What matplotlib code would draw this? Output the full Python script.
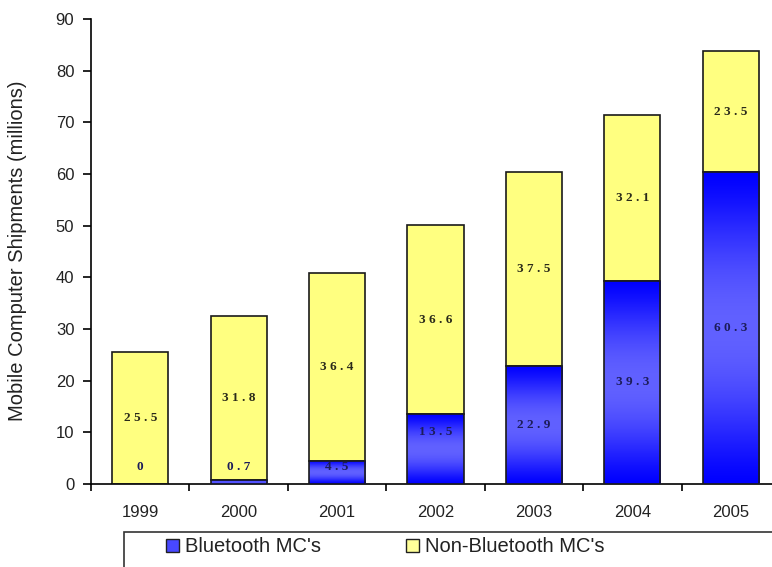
import numpy as np
import matplotlib
matplotlib.use("Agg")
import matplotlib.pyplot as plt
from matplotlib.colors import LinearSegmentedColormap
from matplotlib.patches import Patch, Rectangle

# Shipment data (millions of units)
years = ["1999", "2000", "2001", "2002", "2003", "2004", "2005"]
bluetooth = [0, 0.7, 4.5, 13.5, 22.9, 39.3, 60.3]
non_bluetooth = [25.5, 31.8, 36.4, 36.6, 37.5, 32.1, 23.5]

series_names = ["Bluetooth MC's", "Non-Bluetooth MC's"]
y_label = "Mobile Computer Shipments (millions)"

plt.rcParams["font.family"] = ["Liberation Sans", "DejaVu Sans"]

W, H = 772, 567
fig = plt.figure(figsize=(W / 100, H / 100), dpi=100)
ax = fig.add_axes([91 / W, (H - 484) / H, (780 - 91) / W, (484 - 19) / H])

x = np.arange(len(years))
bar_w = 0.57
yellow = "#ffff80"
edge = "#1a1a1a"

# Non-Bluetooth segments stacked on top of the Bluetooth ones
ax.bar(x, non_bluetooth, bottom=bluetooth, width=bar_w, color=yellow,
       edgecolor=edge, linewidth=1.2, zorder=2)

# Bluetooth segments with a vertical blue gradient (dark ends, lighter middle)
blue_cmap = LinearSegmentedColormap.from_list(
    "bt", [(0.0, (0.0, 0.0, 1.0)), (1.0, (0.38, 0.38, 1.0))])
bt_bars = ax.bar(x, bluetooth, width=bar_w, color="none",
                 edgecolor=edge, linewidth=1.2, zorder=4)
t = np.linspace(0, 1, 256)
profile = np.sin(np.pi * t) ** 1.3
grad = profile[:, None] * np.ones((1, 2))
for rect, v in zip(bt_bars, bluetooth):
    if v <= 0:
        continue
    x0 = rect.get_x()
    im = ax.imshow(grad, extent=[x0, x0 + bar_w, 0, v], origin="lower",
                   aspect="auto", cmap=blue_cmap, vmin=0, vmax=1, zorder=3,
                   interpolation="bilinear")
    im.set_clip_path(rect)


def spaced(v):
    return " ".join(f"{v:g}")


# Value labels centred in each segment (small segments lifted clear of the axis)
label_font = dict(family=["Liberation Serif", "DejaVu Serif"], weight="bold",
                  fontsize=9.5, ha="center", va="center", zorder=6)
bt_lift = {3: 3.4}
for i, (b, n) in enumerate(zip(bluetooth, non_bluetooth)):
    yb = max(b / 2, 3.2) + bt_lift.get(i, 0)
    ax.text(i, yb, spaced(b), color="#1c1c5a", **label_font)
    ax.text(i, b + n / 2, spaced(n), color="#2a2a1a", **label_font)

ax.set_xlim(-0.5, len(years) - 0.5)
ax.set_ylim(0, 90)
ax.set_yticks(np.arange(0, 91, 10))
ax.set_xticks(x)
ax.set_xticklabels(years)
ax.set_xticks(np.arange(-0.5, len(years), 1.0), minor=True)

for s in ("top", "right"):
    ax.spines[s].set_visible(False)
for s in ("left", "bottom"):
    ax.spines[s].set_color("black")
    ax.spines[s].set_linewidth(1.2)

ax.tick_params(axis="y", direction="out", length=6, width=1.2, pad=6,
               labelsize=12, labelcolor="#222222")
ax.tick_params(axis="x", which="major", length=0, pad=15,
               labelsize=12, labelcolor="#222222")
ax.tick_params(axis="x", which="minor", direction="out", length=5, width=1.2)

fig.text(18 / W, 1 - 251 / H, y_label, rotation=90, ha="center", va="center",
         fontsize=14.5, color="#222222")

# Legend with a frame that runs off the lower-right edge
handles = [Patch(facecolor="#4848ff", edgecolor="#202020", linewidth=1),
           Patch(facecolor="#ffff99", edgecolor="#202020", linewidth=1)]
fig.legend(handles, series_names, loc="center left",
           bbox_to_anchor=(166 / W, 1 - 547 / H), ncol=2, frameon=False,
           fontsize=14.5, borderpad=0, borderaxespad=0, handlelength=0.65,
           handleheight=0.6, handletextpad=0.3, columnspacing=4.2,
           labelcolor="#222222")
fig.add_artist(Rectangle((124 / W, -0.1), 1.0, (H - 532) / H + 0.1,
                         transform=fig.transFigure, fill=False,
                         edgecolor="#333333", linewidth=1.2))

fig.savefig("out.png", dpi=100, facecolor="white")
